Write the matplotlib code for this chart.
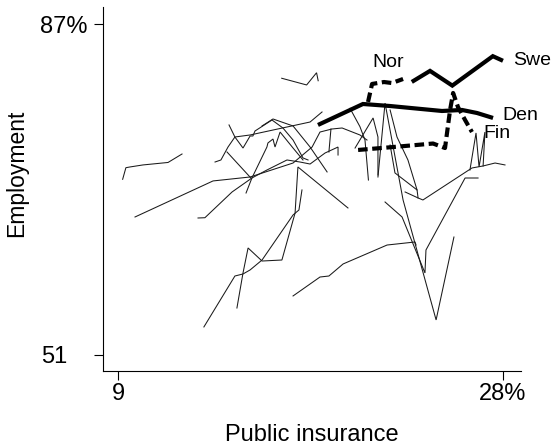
import matplotlib
matplotlib.use("Agg")
import matplotlib.pyplot as plt
from matplotlib.transforms import ScaledTranslation

plt.rcParams['font.family'] = ['Liberation Sans', 'DejaVu Sans']

# Highlighted Nordic trajectories: public insurance (%) vs employment (%)
swe_x = [23.5, 24.4, 25.5, 27.5, 28.0]
swe_y = [80.7, 81.9, 80.3, 83.5, 83.0]

den_x = [18.87, 21.09, 22.43, 24.99, 25.98, 26.72, 27.51]
den_y = [76.02, 78.30, 78.08, 77.54, 77.65, 77.32, 76.78]

nor_x = [21.34, 21.54, 22.13, 22.52, 23.07]
nor_y = [78.52, 80.48, 80.69, 80.58, 81.02]

fin_x = [20.85, 22.43, 24.55, 25.14, 25.39, 25.54, 25.78, 26.13, 26.47]
fin_y = [73.30, 73.59, 74.00, 73.51, 77.65, 79.50, 77.97, 76.56, 75.25]

# Other countries (unlabelled)
c01_x = [9.23, 9.39, 9.59, 10.23, 11.47, 12.16]
c01_y = [70.11, 71.37, 71.45, 71.67, 71.94, 72.86]
c02_x = [9.84, 13.69, 15.52, 17.64, 18.58, 18.97, 19.56, 20.06, 20.94, 21.29]
c02_y = [66.01, 69.93, 70.36, 71.88, 73.62, 75.25, 75.58, 75.69, 74.93, 74.38]
c03_x = [12.95, 13.29, 14.63, 15.61, 16.35, 17.34, 17.98, 18.48, 19.22, 19.86, 19.86]
c03_y = [65.90, 65.93, 68.73, 70.25, 71.12, 72.21, 71.99, 71.77, 72.97, 73.62, 72.75]
c04_x = [15.32, 15.61, 16.35, 16.40, 16.65, 16.75, 17.00, 17.64, 18.13]
c04_y = [68.62, 70.25, 73.62, 74.06, 74.49, 73.62, 75.25, 73.51, 72.21]
c05_x = [14.48, 14.77, 15.17, 15.52, 15.66, 15.76, 16.60, 17.14, 17.64, 18.13, 18.38]
c05_y = [76.02, 74.71, 73.51, 74.82, 74.82, 75.36, 76.56, 75.69, 74.38, 72.43, 72.21]
c06_x = [16.11, 16.65, 17.64, 18.48, 19.32]
c06_y = [75.91, 76.67, 75.91, 73.62, 70.91]
c07_x = [13.79, 14.08, 14.43, 14.77, 15.52, 18.48, 19.07]
c07_y = [71.99, 72.21, 73.62, 74.71, 74.93, 76.34, 77.43]
c08_x = [14.38, 15.56]
c08_y = [73.08, 70.25]
c09_x = [14.87, 15.17, 15.42, 16.11, 17.09, 17.74, 17.88, 20.35]
c09_y = [56.11, 59.92, 62.64, 61.22, 61.33, 66.44, 71.45, 66.99]
c10_x = [13.24, 14.77, 15.17, 15.52, 16.11, 17.64, 17.93, 18.08]
c10_y = [54.05, 59.59, 59.81, 60.25, 61.33, 66.23, 66.77, 68.95]
c11_x = [17.64, 18.97, 19.41, 20.11, 22.28, 23.66, 23.71]
c11_y = [57.42, 59.48, 59.59, 60.90, 62.96, 63.29, 62.96]
c12_x = [22.18, 23.02, 24.15, 24.20, 26.13, 26.77]
c12_y = [67.64, 66.01, 59.92, 62.42, 70.25, 70.25]
c13_x = [21.83, 22.18, 23.07, 24.70, 25.58]
c13_y = [70.36, 78.40, 67.86, 54.81, 63.83]
c14_x = [23.17, 23.81, 24.05, 26.47, 27.02, 27.61, 28.10]
c14_y = [68.73, 68.08, 67.86, 71.34, 71.56, 71.88, 71.67]
c15_x = [22.43, 22.67, 23.76, 23.81]
c15_y = [73.84, 70.80, 68.95, 68.08]
c16_x = [22.43, 22.77, 23.31, 23.76]
c16_y = [77.65, 74.71, 72.21, 68.95]
c17_x = [26.37, 26.67, 26.82, 27.11, 27.02]
c17_y = [71.12, 75.15, 71.45, 75.25, 71.56]
c18_x = [17.08, 18.31, 18.80, 18.88]
c18_y = [81.10, 80.37, 81.70, 80.83]
c19_x = [20.45, 20.94, 21.19, 21.36]
c19_y = [77.83, 75.84, 74.38, 70.03]
c20_x = [20.70, 21.59, 21.83, 21.83]
c20_y = [73.51, 76.78, 74.71, 70.58]
c21_x = [19.51, 19.41]
c21_y = [75.58, 73.08]

others = [
    (c01_x, c01_y), (c02_x, c02_y), (c03_x, c03_y), (c04_x, c04_y),
    (c05_x, c05_y), (c06_x, c06_y), (c07_x, c07_y), (c08_x, c08_y),
    (c09_x, c09_y), (c10_x, c10_y), (c11_x, c11_y), (c12_x, c12_y),
    (c13_x, c13_y), (c14_x, c14_y), (c15_x, c15_y), (c16_x, c16_y),
    (c17_x, c17_y), (c18_x, c18_y), (c19_x, c19_y), (c20_x, c20_y),
    (c21_x, c21_y),
]

x_ticks = [9, 28]
x_tick_labels = ['9', '28%']
y_ticks = [51, 87]
y_tick_labels = ['51', '87%']

fig = plt.figure(figsize=(5.51, 4.45), dpi=100)
ax = fig.add_axes([0.18693, 0.16697, 0.75862, 0.81730])
ax.set_xlim(8.26, 28.89)
ax.set_ylim(49.29, 88.85)

for xs, ys in others:
    ax.plot(xs, ys, color='#1a1a1a', lw=0.75, zorder=2,
            solid_joinstyle='miter')

bold = dict(color='black', lw=3.0, zorder=3, solid_capstyle='butt',
            solid_joinstyle='miter', dash_capstyle='butt')
dashed = (0, (2.3, 1.1))
ax.plot(swe_x, swe_y, **bold)
ax.plot(den_x, den_y, **bold)
ax.plot(nor_x, nor_y, linestyle=dashed, **bold)
ax.plot(fin_x, fin_y, linestyle=dashed, **bold)

lab_kw = dict(textcoords='offset points', fontsize=14, va='center')
ax.annotate('Swe', (swe_x[-1], swe_y[-1]), xytext=(7, 0), ha='left', **lab_kw)
ax.annotate('Den', (den_x[-1], den_y[-1]), xytext=(7, 1.5), ha='left', **lab_kw)
ax.annotate('Fin', (fin_x[-1], fin_y[-1]), xytext=(8, -1), ha='left', **lab_kw)
ax.annotate('Nor', (nor_x[-1], nor_y[-1]), xytext=(-11, 12), ha='center', **lab_kw)

for side in ('top', 'right'):
    ax.spines[side].set_visible(False)
for side in ('left', 'bottom'):
    ax.spines[side].set_linewidth(0.8)

ax.set_xticks(x_ticks)
ax.set_xticklabels(x_tick_labels)
ax.set_yticks(y_ticks)
ax.set_yticklabels(y_tick_labels)
ax.tick_params(direction='out', length=6.5, width=0.8, labelsize=17)
ax.tick_params(axis='x', pad=2.5)
ax.tick_params(axis='y', pad=4.5)

# the short bottom label lines up with the left edge of the top one
low = ax.get_yticklabels()[0]
low.set_transform(low.get_transform() + ScaledTranslation(-0.205, 0, fig.dpi_scale_trans))

fig.text(312 / 551, 1 - 441 / 445, 'Public insurance', fontsize=17,
         ha='center', va='baseline')
fig.text(23 / 551, 1 - 173 / 445, 'Employment', fontsize=16.5, rotation=90,
         rotation_mode='anchor', ha='center', va='baseline')

fig.savefig('out.png', dpi=100)
